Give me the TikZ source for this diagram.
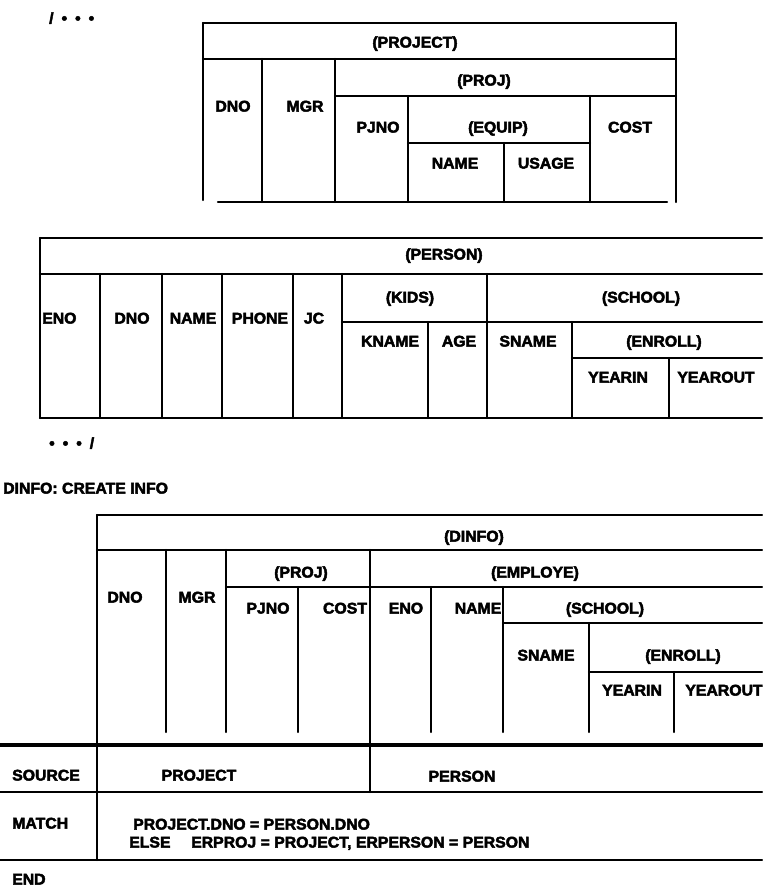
\documentclass[tikz,border=0pt]{standalone}
\usepackage{fontspec}
\setmainfont{Liberation Sans}[BoldFeatures={FakeStretch=1.02,FakeBold=3}]
\begin{document}
\begin{tikzpicture}[x=1pt,y=-1pt,line width=2.4pt,line cap=round,
  lbl/.style={font=\bfseries\fontsize{15.5}{17}\selectfont,inner sep=0pt,text height=11.1pt,text depth=0pt,anchor=center},
  lbw/.style={lbl,anchor=west},
  thick rule/.style={line width=3.2pt}]
\useasboundingbox (0,0) rectangle (762,890);
% ---------- dots ----------
\node[lbw] (dotsA) at (48,18) {/\hspace{8pt}•\hspace{8pt}•\hspace{8pt}•};
\node[lbw] (dotsB) at (48,443) {•\hspace{8pt}•\hspace{8pt}•\hspace{8pt}/};
% ---------- PROJECT table ----------
\draw (203,23) -- (676,23);
\draw (203,23) -- (203,200);
\draw (676,23) -- (676,202);
\draw (203,59) -- (676,59);
\draw (262,59) -- (262,202);
\draw (335,59) -- (335,202);
\draw (335,96) -- (676,96);
\draw (408,96) -- (408,202);
\draw (408,143) -- (590,143);
\draw (504,143) -- (504,202);
\draw (590,96) -- (590,202);
\draw (218,202) -- (667,202);
\node[lbl] (t1h) at (415,42) {(PROJECT)};
\node[lbl] (t1dno) at (233,106) {DNO};
\node[lbl] (t1mgr) at (305,106) {MGR};
\node[lbl] (t1proj) at (484,80) {(PROJ)};
\node[lbl] (t1pjno) at (378,127) {PJNO};
\node[lbl] (t1equip) at (498,127) {(EQUIP)};
\node[lbl] (t1name) at (455,163) {NAME};
\node[lbl] (t1usage) at (546,163) {USAGE};
\node[lbl] (t1cost) at (630,127) {COST};
% ---------- PERSON table ----------
\draw (40,238) -- (762,238);
\draw (40,238) -- (40,418);
\draw (40,274) -- (762,274);
\draw (40,418) -- (762,418);
\foreach \xx in {100,162,222,293,342,487} \draw (\xx,274) -- (\xx,418);
\draw (342,322) -- (762,322);
\draw (428,322) -- (428,418);
\draw (572,322) -- (572,418);
\draw (572,358) -- (762,358);
\draw (669,358) -- (669,418);
\node[lbl] (t2h) at (444,254) {(PERSON)};
\node[lbw] (t2eno) at (41,318) {ENO};
\node[lbl] (t2dno) at (132,318) {DNO};
\node[lbl] (t2name) at (193,318) {NAME};
\node[lbl] (t2phone) at (260,318) {PHONE};
\node[lbl] (t2jc) at (314,318) {JC};
\node[lbl] (t2kids) at (410,297) {(KIDS)};
\node[lbl] (t2school) at (641,297) {(SCHOOL)};
\node[lbl] (t2kname) at (390,341) {KNAME};
\node[lbl] (t2age) at (459,341) {AGE};
\node[lbl] (t2sname) at (528,341) {SNAME};
\node[lbl] (t2enroll) at (664,341) {(ENROLL)};
\node[lbl] (t2yin) at (618,377) {YEARIN};
\node[lbl] (t2yout) at (716,377) {YEAROUT};
% ---------- DINFO ----------
\node[lbw] (create) at (2,488) {DINFO: CREATE INFO};
\draw (97,515) -- (762,515);
\draw (97,515) -- (97,860);
\draw (97,550) -- (762,550);
\draw (166,550) -- (166,732);
\draw (226,550) -- (226,732);
\draw (370,550) -- (370,792);
\draw (226,587) -- (762,587);
\draw (298,587) -- (298,732);
\draw (431,587) -- (431,732);
\draw (503,587) -- (503,732);
\draw (503,623) -- (762,623);
\draw (589,623) -- (589,732);
\draw (589,672) -- (762,672);
\draw (674,672) -- (674,732);
\draw[thick rule] (0,745) -- (762,745);
\draw (0,792) -- (762,792);
\draw (0,860) -- (762,860);
\node[lbl] (t3h) at (474,536) {(DINFO)};
\node[lbl] (t3dno) at (125,597) {DNO};
\node[lbl] (t3mgr) at (197,597) {MGR};
\node[lbl] (t3proj) at (301,572) {(PROJ)};
\node[lbl] (t3pjno) at (268,608) {PJNO};
\node[lbl] (t3cost) at (345,608) {COST};
\node[lbl] (t3emp) at (535,572) {(EMPLOYE)};
\node[lbl] (t3eno) at (406,608) {ENO};
\node[lbl] (t3name) at (478,608) {NAME};
\node[lbl] (t3school) at (605,608) {(SCHOOL)};
\node[lbl] (t3sname) at (546,655) {SNAME};
\node[lbl] (t3enroll) at (683,655) {(ENROLL)};
\node[lbl] (t3yin) at (632,690) {YEARIN};
\node[lbl] (t3yout) at (724,690) {YEAROUT};
% ---------- source / match ----------
\node[lbw] (src) at (11,775) {SOURCE};
\node[lbl] (srcA) at (199,775) {PROJECT};
\node[lbl] (srcB) at (462,776) {PERSON};
\node[lbw] (match) at (11,823) {MATCH};
\node[lbw] (m1) at (132,824) {PROJECT.DNO = PERSON.DNO};
\node[lbw] (m2a) at (128,842) {ELSE};
\node[lbw] (m2b) at (190,842) {ERPROJ = PROJECT, ERPERSON = PERSON};
\node[lbw] (endw) at (11,879) {END};
\end{tikzpicture}
\end{document}
